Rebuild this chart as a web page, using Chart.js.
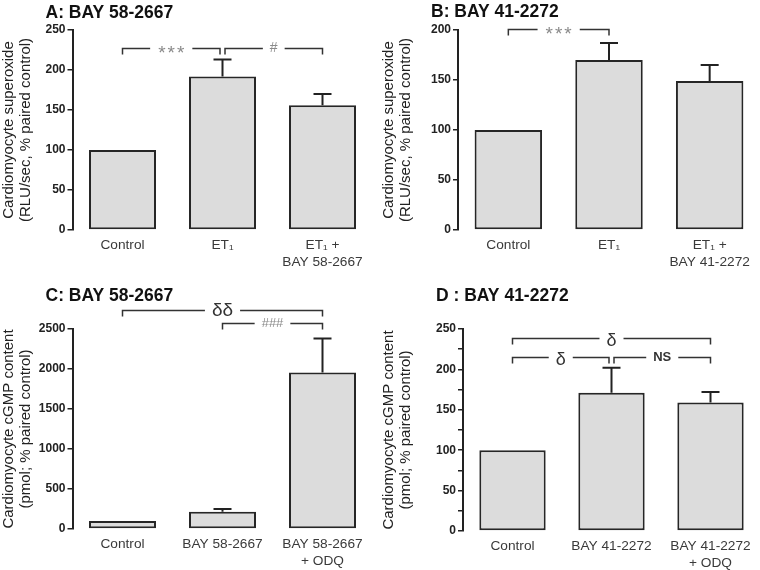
<!DOCTYPE html>
<html>
<head>
<meta charset="utf-8">
<script src="https://cdn.jsdelivr.net/npm/chart.js@4"></script>
<style>
  html, body { margin: 0; padding: 0; background: #fff; }
  body { width: 760px; height: 570px; position: relative; overflow: hidden; }
  .panel { position: absolute; width: 380px; height: 285px; }
</style>
</head>
<body>
<div class="panel" style="left:0;top:0"><canvas id="cA"></canvas></div>
<div class="panel" style="left:380px;top:0"><canvas id="cB"></canvas></div>
<div class="panel" style="left:0;top:285px"><canvas id="cC"></canvas></div>
<div class="panel" style="left:380px;top:285px"><canvas id="cD"></canvas></div>
<script>
// ---------- data ----------
const titleA = 'A: BAY 58-2667';
const titleB = 'B: BAY 41-2272';
const titleC = 'C: BAY 58-2667';
const titleD = 'D : BAY 41-2272';

const labelsA = ['Control', 'ET\u2081', ['ET\u2081 +', 'BAY 58-2667']];
const labelsB = ['Control', 'ET\u2081', ['ET\u2081 +', 'BAY 41-2272']];
const labelsC = ['Control', 'BAY 58-2667', ['BAY 58-2667', '+ ODQ']];
const labelsD = ['Control', 'BAY 41-2272', ['BAY 41-2272', '+ ODQ']];

const meanA = [100, 192, 156];
const semA  = [0, 21, 14];
const meanB = [100, 170, 149];
const semB  = [0, 17, 16];
const meanC = [100, 215, 1955];
const semC  = [0, 35, 425];
const meanD = [100, 171, 159];
const semD  = [0, 31, 13];

const yTitleTop = ['Cardiomyocyte superoxide', '(RLU/sec, % paired control)'];
const yTitleBottom = ['Cardiomyocyte cGMP content', '(pmol; % paired control)'];

const yMaxA = 250, yStepA = 50;
const yMaxB = 200, yStepB = 50;
const yMaxC = 2500, yStepC = 500;
const yMaxD = 250, yStepD = 25;   // labels every 50, minor ticks every 25

// significance brackets: [fromIndex, toIndex, yValue, label]
const bracketsA = [[0, 1, 227, '***'], [1, 2, 227, '#']];
const bracketsB = [[0, 1, 201, '***']];
const bracketsC = [[0, 2, 2735, '\u03b4\u03b4'], [1, 2, 2570, '###']];
const bracketsD = [[0, 2, 239, '\u03b4'], [0, 1, 215, '\u03b4'], [1, 2, 215, 'NS']];

// ---------- styles ----------
const FONT = "'Liberation Sans', Arial, sans-serif";
const labelStyles = {
  '***': { font: '19px ' + FONT, color: '#8a8a8a', dy: 5, ls: '2px' },
  '#': { font: '14px ' + FONT, color: '#8a8a8a', dy: 0, ls: '0px' },
  '###': { font: '13px ' + FONT, color: '#8a8a8a', dy: 0, ls: '0px' },
  '\u03b4\u03b4': { font: '19px ' + FONT, color: '#333', dy: 0, ls: '0px' },
  '\u03b4': { font: '18px ' + FONT, color: '#333', dy: 3, ls: '0px' },
  'NS': { font: 'bold 13px ' + FONT, color: '#333', dy: 0, ls: '0px' }
};

const panelPlugin = {
  id: 'panelExtras',
  afterDatasetsDraw(chart, args, opts) {
    const ctx = chart.ctx;
    const meta = chart.getDatasetMeta(0);
    const ys = chart.scales.y;
    const sem = opts.sem;
    const mean = chart.data.datasets[0].data;
    ctx.save();
    // error bars (upper whisker)
    ctx.strokeStyle = '#222';
    ctx.lineWidth = 2;
    meta.data.forEach((bar, i) => {
      if (!sem[i]) return;
      const x = bar.x;
      const y0 = ys.getPixelForValue(mean[i]);
      const y1 = ys.getPixelForValue(mean[i] + sem[i]);
      ctx.beginPath();
      ctx.moveTo(x, y0);
      ctx.lineTo(x, y1);
      ctx.moveTo(x - 9, y1);
      ctx.lineTo(x + 9, y1);
      ctx.stroke();
    });
    // brackets
    const br = opts.brackets;
    br.forEach(b => {
      const [f, t, v, lab] = b;
      let x1 = meta.data[f].x, x2 = meta.data[t].x;
      const y = Math.round(ys.getPixelForValue(v)) + 0.5;
      if (br.some(o => o !== b && o[2] === v && o[1] === f)) x1 += 2.5;
      if (br.some(o => o !== b && o[2] === v && o[0] === t)) x2 -= 2.5;
      const st = labelStyles[lab];
      ctx.font = st.font;
      if ('letterSpacing' in ctx) ctx.letterSpacing = st.ls;
      const w = ctx.measureText(lab).width;
      const mid = (x1 + x2) / 2;
      const gap = w / 2 + 7;
      ctx.strokeStyle = '#333';
      ctx.lineWidth = 1.5;
      ctx.beginPath();
      ctx.moveTo(x1, y + 6);
      ctx.lineTo(x1, y);
      ctx.lineTo(mid - gap, y);
      ctx.moveTo(mid + gap, y);
      ctx.lineTo(x2, y);
      ctx.lineTo(x2, y + 6);
      ctx.stroke();
      ctx.fillStyle = st.color;
      ctx.textAlign = 'center';
      ctx.textBaseline = 'middle';
      ctx.fillText(lab, mid + parseFloat(st.ls) / 2, y + st.dy);
      if ('letterSpacing' in ctx) ctx.letterSpacing = '0px';
    });
    // panel title
    ctx.font = 'bold 17.5px ' + FONT;
    ctx.fillStyle = '#111';
    ctx.textAlign = 'left';
    ctx.textBaseline = 'middle';
    ctx.fillText(opts.title, chart.chartArea.left - 27, opts.titleY);
    ctx.restore();
  }
};

function makeChart(id, title, labels, mean, sem, yTitle, yMax, yStep, brackets, layout) {
  return new Chart(document.getElementById(id), {
    type: 'bar',
    data: {
      labels: labels,
      datasets: [{
        data: mean,
        backgroundColor: '#dcdcdc',
        borderColor: '#262626',
        borderWidth: 2,
        borderSkipped: false,
        categoryPercentage: 1,
        barPercentage: 0.67
      }]
    },
    options: {
      responsive: true,
      maintainAspectRatio: false,
      animation: false,
      devicePixelRatio: 1,
      layout: { padding: { left: 0, right: layout.right, top: layout.top, bottom: 0 } },
      plugins: {
        legend: { display: false },
        tooltip: { enabled: false },
        panelExtras: { sem: sem, brackets: brackets, title: title, titleY: layout.titleY }
      },
      scales: {
        x: {
          offset: true,
          grid: { display: false, drawTicks: false },
          border: { display: false },
          ticks: {
            color: '#3a3a3a',
            font: { family: FONT, size: 13.7, lineHeight: 1.25 },
            padding: 7,
            maxRotation: 0,
            autoSkip: false
          },
          afterFit(scale) { scale.height = layout.xh; }
        },
        y: {
          min: 0,
          max: yMax,
          grid: { drawOnChartArea: false, drawTicks: true, tickLength: 5, color: '#222', lineWidth: 1.5 },
          border: { display: true, color: '#222', width: 2 },
          ticks: {
            stepSize: yStep,
            color: '#222',
            padding: 2,
            font: { family: FONT, size: 12, weight: 'bold' },
            callback: (v) => (v % 50 === 0 ? v : '')
          },
          title: {
            display: true,
            text: yTitle,
            color: '#222',
            font: { family: FONT, size: 15, lineHeight: 1.1 },
            padding: { top: 1, bottom: 0 }
          },
          afterFit(scale) { scale.width = layout.yw; }
        }
      }
    },
    plugins: [panelPlugin]
  });
}

makeChart('cA', titleA, labelsA, meanA, semA, yTitleTop, yMaxA, yStepA, bracketsA,
  { yw: 72.5, right: 7.5, top: 30, xh: 55, titleY: 13 });
makeChart('cB', titleB, labelsB, meanB, semB, yTitleTop, yMaxB, yStepB, bracketsB,
  { yw: 78, right: 0, top: 30, xh: 55, titleY: 12 });
makeChart('cC', titleC, labelsC, meanC, semC, yTitleBottom, yMaxC, yStepC, bracketsC,
  { yw: 72.5, right: 7.5, top: 44, xh: 41, titleY: 11 });
makeChart('cD', titleD, labelsD, meanD, semD, yTitleBottom, yMaxD, yStepD, bracketsD,
  { yw: 83, right: 0, top: 44, xh: 39, titleY: 11 });
</script>
</body>
</html>
